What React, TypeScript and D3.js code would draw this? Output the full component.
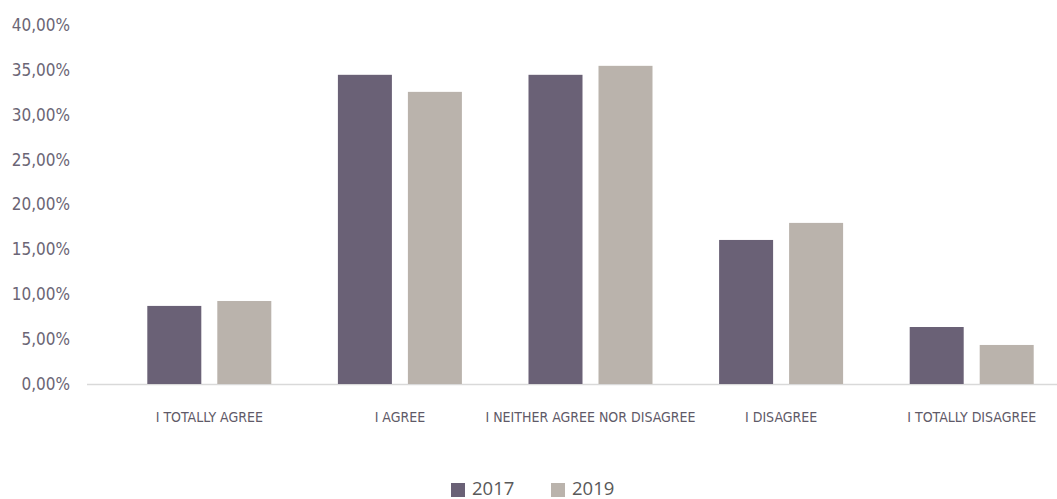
import React from "react";
import * as d3 from "d3";

const categories = ["I TOTALLY AGREE", "I AGREE", "I NEITHER AGREE NOR DISAGREE", "I DISAGREE", "I TOTALLY DISAGREE"];
const seriesNames = ["2017", "2019"];
const values2017 = [8.7, 34.45, 34.45, 16.05, 6.35];
const values2019 = [9.25, 32.55, 35.45, 17.95, 4.35];
const yTicks = [0, 5, 10, 15, 20, 25, 30, 35, 40];
const colors = ["#6a6176", "#bab3ac"];

const W = 1057;
const H = 499;

export default function App() {
  const y = d3.scaleLinear().domain([0, 40]).range([384, 25]);
  const x0 = d3.scaleBand<string>().domain(categories).range([114, 1067]).paddingInner(0).paddingOuter(0);
  const x1 = d3.scaleBand<string>().domain(seriesNames).range([-62, 62]).paddingInner(0.16 / 0.7).paddingOuter(0);
  const series = [values2017, values2019];
  const axisFont = "'DejaVu Sans Condensed', 'DejaVu Sans', sans-serif";

  return (
    <svg width={W} height={H} style={{ position: "absolute", left: 0, top: 0, background: "#fff" }}>
      {yTicks.map((t) => (
        <text key={t} x={70} y={y(t)} dy="0.35em" textAnchor="end" fontFamily={axisFont} fontSize={17} fill="#6b6575" style={{ fontStretch: "condensed" }}>
          {d3.format(".2f")(t).replace(".", ",") + "%"}
        </text>
      ))}
      <line x1={87} x2={1057} y1={y(0) + 0.5} y2={y(0) + 0.5} stroke="#d9d9d9" strokeWidth={1.5} />
      {categories.map((c, i) => {
        const cx = (x0(c) as number) + x0.bandwidth() / 2;
        return (
          <g key={c}>
            {seriesNames.map((s, j) => (
              <rect
                key={s}
                x={cx + (x1(s) as number)}
                y={y(series[j][i])}
                width={x1.bandwidth()}
                height={y(0) - y(series[j][i])}
                fill={colors[j]}
              />
            ))}
            <text x={cx} y={417} dy="0.35em" textAnchor="middle" fontFamily={axisFont} fontSize={14} fill="#5f5a68" style={{ fontStretch: "condensed" }}>
              {c}
            </text>
          </g>
        );
      })}
      {seriesNames.map((s, j) => {
        const lx = 451 + j * 100;
        return (
          <g key={s}>
            <rect x={lx} y={483} width={14} height={14} fill={colors[j]} />
            <text x={lx + 21} y={489} dy="0.35em" fontFamily="'Open Sans', sans-serif" fontSize={18.5} fill="#595959">
              {s}
            </text>
          </g>
        );
      })}
    </svg>
  );
}
